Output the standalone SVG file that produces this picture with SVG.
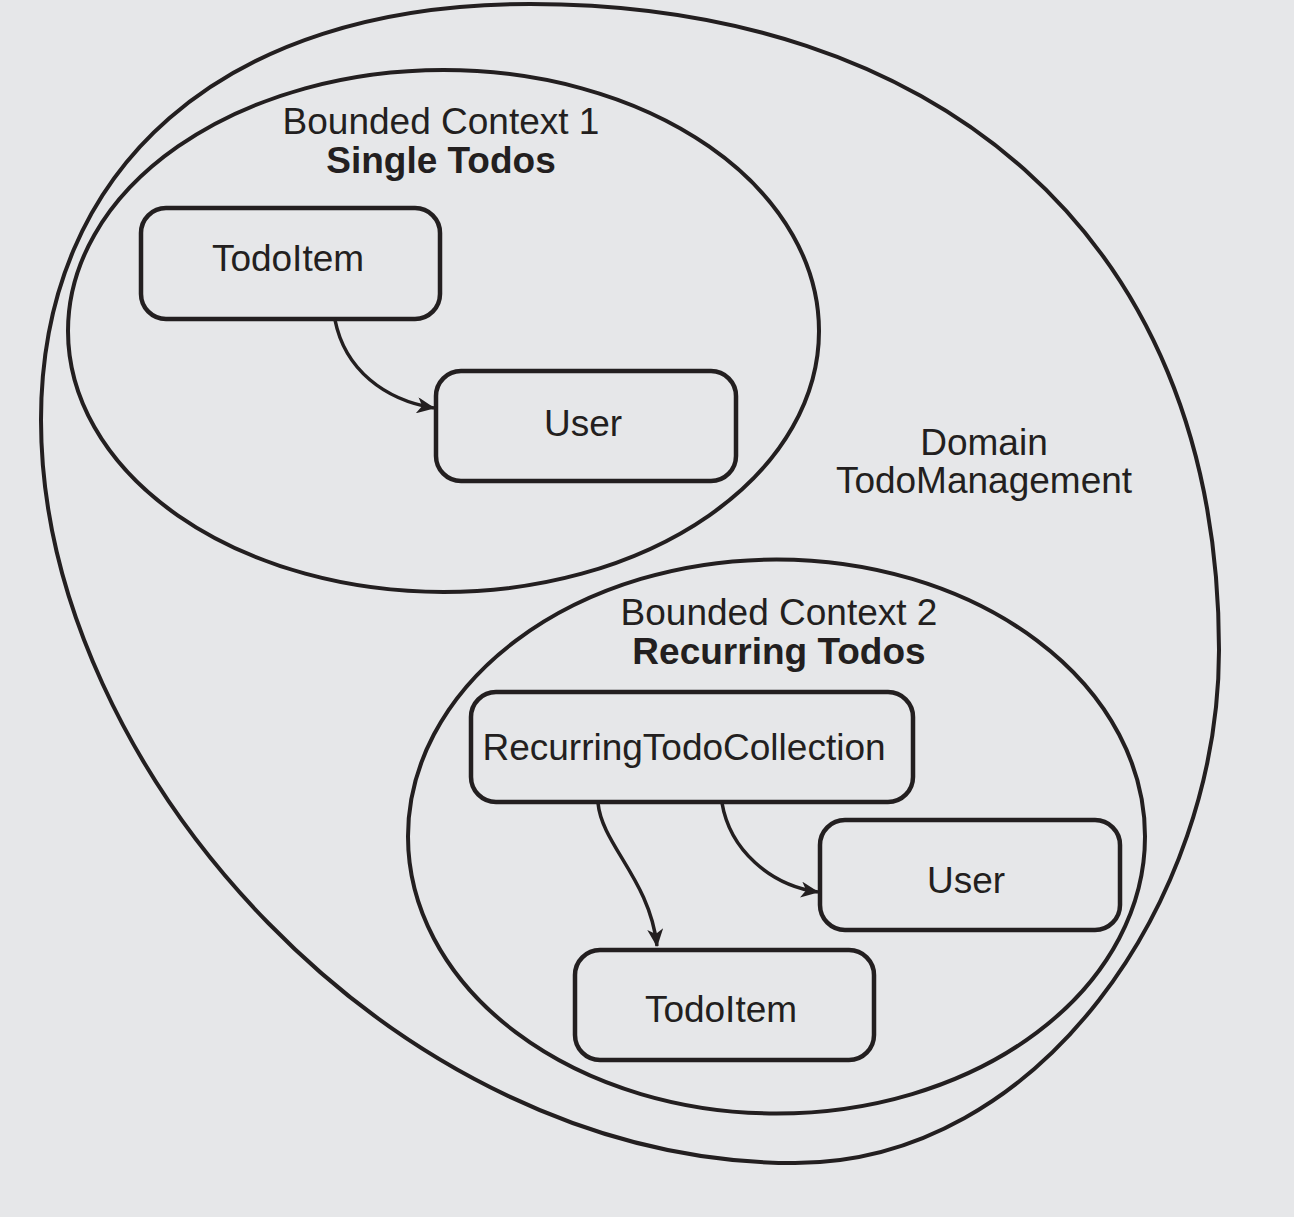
<svg xmlns="http://www.w3.org/2000/svg" width="1294" height="1217" viewBox="0 0 1294 1217">
<defs>
<style>
.bg{fill:#e6e7e9}
.shape{fill:none;stroke:#231f20;stroke-width:4}
.box{fill:none;stroke:#231f20;stroke-width:4.5}
.edge{fill:none;stroke:#231f20;stroke-width:3.5}
.t{font-family:"Liberation Sans",Arial,Helvetica,sans-serif;font-size:37px;fill:#231f20;text-anchor:middle}
.b{font-weight:bold}
</style>
<marker id="arrow" viewBox="0 0 18 16" markerWidth="18" markerHeight="16" refX="17" refY="8" orient="auto" markerUnits="userSpaceOnUse">
<path d="M0,0 L18,8 L0,16 L5,8 Z" fill="#231f20"/>
</marker>
</defs>
<rect class="bg" x="0" y="0" width="1294" height="1217"/>
<g id="domain">
<path class="shape" d="M530,4 C930,4 1219,230 1219,650 C1219,900 1040,1163 795,1163 C395,1163 41,770 41,420 C41,170 220,4 530,4 Z"/>
<text class="t" x="984" y="455">Domain</text>
<text class="t" x="984" y="493">TodoManagement</text>
</g>
<g id="context1">
<ellipse class="shape" cx="443.5" cy="331" rx="375.5" ry="261"/>
<text class="t" x="441" y="134">Bounded Context 1</text>
<text class="t b" x="441" y="173">Single Todos</text>
</g>
<g id="context2">
<ellipse class="shape" cx="776.5" cy="836.5" rx="368.5" ry="277"/>
<text class="t" x="779" y="625">Bounded Context 2</text>
<text class="t b" x="779" y="664">Recurring Todos</text>
</g>
<g id="todoitem1">
<rect class="box" x="141" y="208" width="299" height="111" rx="25"/>
<text class="t" x="288" y="271">TodoItem</text>
</g>
<g id="user1">
<rect class="box" x="436" y="371" width="300" height="110" rx="25"/>
<text class="t" x="583" y="436">User</text>
</g>
<g id="recurringtodocollection">
<rect class="box" x="471" y="692" width="442" height="110" rx="25"/>
<text class="t" x="684" y="760">RecurringTodoCollection</text>
</g>
<g id="user2">
<rect class="box" x="820" y="820" width="300" height="110" rx="25"/>
<text class="t" x="966" y="893">User</text>
</g>
<g id="todoitem2">
<rect class="box" x="575" y="950" width="299" height="110" rx="25"/>
<text class="t" x="721" y="1022">TodoItem</text>
</g>
<g id="connectors">
<path class="edge" d="M335,320 C345,370 385,400 434,408" marker-end="url(#arrow)"/>
<path class="edge" d="M598,803 C602,845 650,880 657,946" marker-end="url(#arrow)"/>
<path class="edge" d="M722,803 C730,850 770,885 818,892" marker-end="url(#arrow)"/>
</g>
</svg>
